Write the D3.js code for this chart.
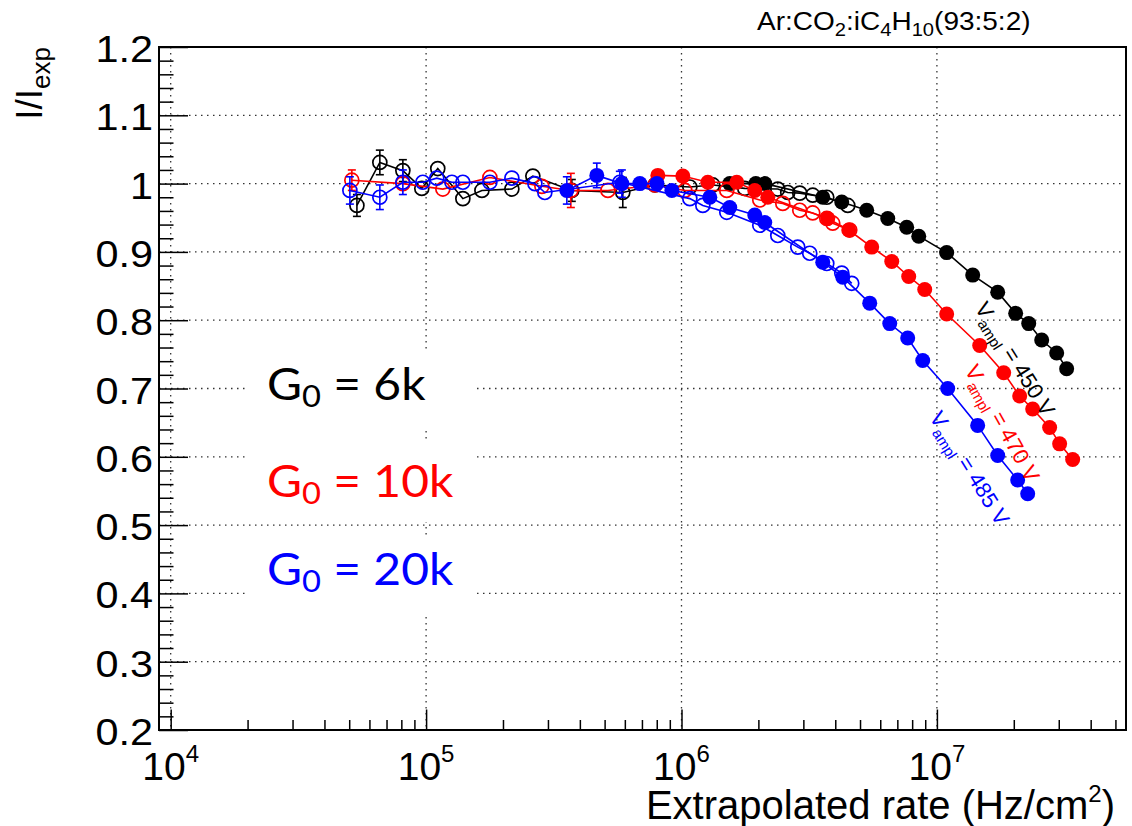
<!DOCTYPE html>
<html>
<head>
<meta charset="utf-8">
<title>I/Iexp vs extrapolated rate</title>
<style>
  body { margin: 0; background: #fff; }
  svg text { font-family: "Liberation Sans", Arial, sans-serif; fill: #000; }
  .grid line { stroke: #333; stroke-width: 1.3; stroke-dasharray: 1.5, 4.5; }
  .gain { font-family: Lato, "Noto Sans", sans-serif; font-size: 44px; }
</style>
</head>
<body>
<svg id="chart" width="1132" height="826"></svg>
<script src="https://d3js.org/d3.v7.min.js"></script>
<script>
// ---- data ----
const xMajorTicks = [1e4, 1e5, 1e6, 1e7];
const yMajorTicks = [0.2, 0.3, 0.4, 0.5, 0.6, 0.7, 0.8, 0.9, 1.0, 1.1, 1.2];
const yTickLabels = ["0.2", "0.3", "0.4", "0.5", "0.6", "0.7", "0.8", "0.9", "1", "1.1", "1.2"];

// G0 = 6k (black)
const blackOpenRate  = [5.36e4, 6.59e4, 8.11e4, 9.62e4, 1.111e5, 1.393e5, 1.654e5, 2.167e5, 2.618e5, 3.72e5, 5.89e5, 7.87e5, 1.078e6, 1.326e6, 1.769e6, 2.382e6, 2.606e6, 2.904e6, 3.265e6, 3.705e6, 4.477e6];
const blackOpenRatio = [0.968, 1.031, 1.019, 0.993, 1.022, 0.978, 0.990, 0.992, 1.011, 0.990, 0.987, 0.998, 0.995, 0.998, 0.993, 0.992, 0.987, 0.986, 0.983, 0.980, 0.968];
const blackOpenErr   = [0.016, 0.018, 0.016, 0.005, 0.005, 0.005, 0.005, 0.005, 0.005, 0.016, 0.022, 0.004, 0.004, 0.004, 0.004, 0.004, 0.004, 0.004, 0.004, 0.004, 0.004];
const blackFullRate  = [1.545e6, 1.954e6, 2.118e6, 3.573e6, 4.241e6, 5.311e6, 6.42e6, 7.617e6, 8.49e6, 1.092e7, 1.381e7, 1.730e7, 2.034e7, 2.288e7, 2.572e7, 2.944e7, 3.221e7];
const blackFullRatio = [1.000, 1.000, 1.000, 0.980, 0.973, 0.961, 0.949, 0.936, 0.923, 0.899, 0.866, 0.841, 0.810, 0.795, 0.771, 0.752, 0.729];

// G0 = 10k (red)
const redOpenRate  = [5.12e4, 8.11e4, 1.163e5, 1.777e5, 2.84e5, 3.688e5, 5.15e5, 7.87e5, 1.03e6, 1.504e6, 2.025e6, 2.492e6, 2.904e6, 3.265e6, 3.705e6, 3.91e6, 4.558e6];
const redOpenRatio = [1.005, 1.000, 0.992, 1.009, 0.996, 0.990, 0.990, 0.998, 0.990, 0.990, 0.976, 0.971, 0.961, 0.957, 0.949, 0.942, 0.932];
const redOpenErr   = [0.015, 0.005, 0.005, 0.005, 0.005, 0.025, 0.005, 0.004, 0.004, 0.004, 0.004, 0.004, 0.004, 0.004, 0.004, 0.004, 0.004];
const redFullRate  = [8.08e5, 1.012e6, 1.268e6, 1.646e6, 1.936e6, 2.177e6, 3.738e6, 4.517e6, 5.556e6, 6.656e6, 7.755e6, 8.96e6, 1.092e7, 1.471e7, 1.826e7, 2.109e7, 2.371e7, 2.763e7, 3.024e7, 3.401e7];
const redFullRatio = [1.012, 1.011, 1.002, 1.002, 0.990, 0.980, 0.949, 0.932, 0.907, 0.886, 0.864, 0.845, 0.809, 0.763, 0.723, 0.689, 0.670, 0.643, 0.619, 0.596];

// G0 = 20k (blue)
const blueOpenRate  = [5.03e4, 6.59e4, 8.11e4, 9.71e4, 1.101e5, 1.262e5, 1.393e5, 1.777e5, 2.167e5, 2.667e5, 2.917e5, 5.735e5, 1.078e6, 1.212e6, 1.504e6, 2.025e6, 2.382e6, 2.852e6, 3.178e6, 3.705e6, 4.241e6, 4.64e6];
const blueOpenRatio = [0.990, 0.980, 1.002, 1.002, 1.008, 1.002, 1.002, 1.002, 1.008, 1.000, 0.987, 1.002, 0.978, 0.968, 0.958, 0.939, 0.924, 0.907, 0.898, 0.883, 0.869, 0.854];
const blueOpenErr   = [0.020, 0.018, 0.018, 0.005, 0.005, 0.005, 0.005, 0.005, 0.005, 0.005, 0.005, 0.016, 0.004, 0.004, 0.004, 0.004, 0.004, 0.004, 0.004, 0.004, 0.004, 0.004];
const blueFullRate  = [3.557e5, 4.66e5, 5.84e5, 6.87e5, 8.01e5, 9.17e5, 1.291e6, 1.545e6, 1.936e6, 2.118e6, 3.573e6, 4.28e6, 5.457e6, 6.537e6, 7.686e6, 8.8e6, 1.102e7, 1.444e7, 1.730e7, 2.071e7, 2.267e7];
const blueFullRatio = [0.990, 1.012, 1.000, 1.000, 1.000, 0.990, 0.980, 0.965, 0.954, 0.943, 0.885, 0.863, 0.825, 0.795, 0.774, 0.741, 0.700, 0.646, 0.602, 0.566, 0.546];
const blueFullErr   = [0.020, 0.018, 0.020, 0.004, 0.004, 0.004, 0.004, 0.004, 0.004, 0.004, 0.004, 0.004, 0.004, 0.004, 0.004, 0.004, 0.004, 0.004, 0.004, 0.004, 0.004];

const gainLabels = ["6k", "10k", "20k"];
const voltLabels = ["450", "470", "485"];
const colors = ["#000000", "#ff0000", "#0000ff"];
// where the rotated V_ampl labels start (rate, ratio)
const voltLabelRate  = [1.40e7, 1.28e7, 9.3e6];
const voltLabelRatio = [0.818, 0.727, 0.658];

// ---- layout ----
const frame = {left: 159, right: 1126, top: 47, bottom: 730};
const svg = d3.select("#chart");

svg.append("rect").attr("width", 1132).attr("height", 826).attr("fill", "#fff");

const x = d3.scaleLog().domain([9000, 5.5e7]).range([frame.left, frame.right]);
const y = d3.scaleLinear().domain([0.2, 1.2]).range([frame.bottom, frame.top]);

// grid
const grid = svg.append("g").attr("class", "grid");
grid.selectAll(".vx").data(xMajorTicks).enter().append("line")
  .attr("x1", d => x(d)).attr("x2", d => x(d))
  .attr("y1", frame.top).attr("y2", frame.bottom);
grid.selectAll(".hy").data(yMajorTicks.slice(1, -1)).enter().append("line")
  .attr("x1", frame.left).attr("x2", frame.right)
  .attr("y1", d => y(d)).attr("y2", d => y(d));

// white boxes behind the gain labels
const gainBoxTop = [352, 442, 537];
svg.selectAll(".gainbox").data(gainBoxTop).enter().append("rect")
  .attr("x", 245).attr("y", d => d).attr("width", 232).attr("height", d => d === 442 ? 80 : 78)
  .attr("fill", "#fff");

// axes (ticks point inside the frame)
const xMinor = [];
for (let k = 3; k <= 7; k++) for (let m = 2; m <= 9; m++) {
  const v = m * Math.pow(10, k);
  if (v > 9100 && v < 5.5e7) xMinor.push(v);
}
const yMinor = d3.range(0.22, 1.2, 0.02).filter(v => Math.abs(v * 10 - Math.round(v * 10)) > 0.01);

function tickAxis(axis) {
  return g => { g.call(axis); g.select(".domain").remove(); g.selectAll("line").attr("stroke", "#000").attr("stroke-width", 1.5); };
}
svg.append("g").attr("transform", `translate(0,${frame.bottom})`)
  .call(tickAxis(d3.axisBottom(x).tickValues(xMajorTicks).tickSize(-20.5).tickFormat("")));
svg.append("g").attr("transform", `translate(0,${frame.bottom})`)
  .call(tickAxis(d3.axisBottom(x).tickValues(xMinor).tickSize(-10).tickFormat("")));
svg.append("g").attr("transform", `translate(${frame.left},0)`)
  .call(tickAxis(d3.axisLeft(y).tickValues(yMajorTicks).tickSize(-29).tickFormat("")));
svg.append("g").attr("transform", `translate(${frame.left},0)`)
  .call(tickAxis(d3.axisLeft(y).tickValues(yMinor).tickSize(-14.5).tickFormat("")));

// frame
svg.append("rect")
  .attr("x", frame.left).attr("y", frame.top)
  .attr("width", frame.right - frame.left).attr("height", frame.bottom - frame.top)
  .attr("fill", "none").attr("stroke", "#000").attr("stroke-width", 2);

// tick labels
svg.selectAll(".ylab").data(yMajorTicks).enter().append("text")
  .attr("transform", d => `translate(153,${y(d) + 15}) scale(1.12,1)`)
  .attr("text-anchor", "end").attr("font-size", 37)
  .text((d, i) => yTickLabels[i]);

const xl = svg.selectAll(".xlab").data(xMajorTicks).enter().append("text")
  .attr("x", d => x(d)).attr("y", 780).attr("text-anchor", "middle");
xl.append("tspan").attr("font-size", 39).text("10");
xl.append("tspan").attr("font-size", 24).attr("dy", -18).text(d => Math.round(Math.log10(d)));

// axis titles
const xt = svg.append("text").attr("x", 1115).attr("y", 819).attr("text-anchor", "end").attr("font-size", 40);
xt.append("tspan").text("Extrapolated rate (Hz/cm");
xt.append("tspan").attr("font-size", 24).attr("dy", -17).text("2");
xt.append("tspan").attr("dy", 17).text(")");

const yt = svg.append("text").attr("transform", `translate(42,${frame.top}) rotate(-90)`)
  .attr("text-anchor", "end").attr("font-size", 37);
yt.append("tspan").text("I/I");
yt.append("tspan").attr("font-size", 26).attr("dy", 8).text("exp");

// gas mixture
const gt = svg.append("text").attr("transform", "translate(757,30) scale(1.12,1)").attr("font-size", 25);
[["Ar:CO", 0], ["2", 1], [":iC", 0], ["4", 1], ["H", 0], ["10", 1], ["(93:5:2)", 0]].forEach(([s, sub], i, arr) => {
  const prev = i > 0 ? arr[i - 1][1] : 0;
  gt.append("tspan").attr("font-size", sub ? 18 : 25).attr("dy", (sub - prev) * 6).text(s);
});

// ---- data series ----
const series = [
  {rate: blackOpenRate, ratio: blackOpenRatio, err: blackOpenErr, color: colors[0], filled: false},
  {rate: blackFullRate, ratio: blackFullRatio, err: null, color: colors[0], filled: true},
  {rate: redOpenRate, ratio: redOpenRatio, err: redOpenErr, color: colors[1], filled: false},
  {rate: redFullRate, ratio: redFullRatio, err: null, color: colors[1], filled: true},
  {rate: blueOpenRate, ratio: blueOpenRatio, err: blueOpenErr, color: colors[2], filled: false},
  {rate: blueFullRate, ratio: blueFullRatio, err: blueFullErr, color: colors[2], filled: true}
];

const line = d3.line().x(d => x(d.r)).y(d => y(d.v));

series.forEach(s => {
  const pts = s.rate.map((r, i) => ({r, v: s.ratio[i], e: s.err ? s.err[i] : 0}));
  const g = svg.append("g");
  g.append("path").datum(pts).attr("d", line)
    .attr("fill", "none").attr("stroke", s.color).attr("stroke-width", 1.6);
  const eb = g.selectAll(".err").data(pts.filter(d => d.e > 0.006)).enter().append("g").attr("stroke", s.color).attr("stroke-width", 1.6);
  eb.append("line").attr("x1", d => x(d.r)).attr("x2", d => x(d.r)).attr("y1", d => y(d.v - d.e)).attr("y2", d => y(d.v + d.e));
  eb.append("line").attr("x1", d => x(d.r) - 4).attr("x2", d => x(d.r) + 4).attr("y1", d => y(d.v - d.e)).attr("y2", d => y(d.v - d.e));
  eb.append("line").attr("x1", d => x(d.r) - 4).attr("x2", d => x(d.r) + 4).attr("y1", d => y(d.v + d.e)).attr("y2", d => y(d.v + d.e));
  g.selectAll("circle").data(pts).enter().append("circle")
    .attr("cx", d => x(d.r)).attr("cy", d => y(d.v))
    .attr("r", s.filled ? 7.5 : 7)
    .attr("fill", s.filled ? s.color : "none")
    .attr("stroke", s.color).attr("stroke-width", s.filled ? 0 : 1.7);
});

// rotated V_ampl labels
voltLabels.forEach((v, i) => {
  const t = svg.append("text")
    .attr("transform", `translate(${x(voltLabelRate[i])},${y(voltLabelRatio[i])}) rotate(${i === 1 ? 61 : 58})`)
    .attr("font-size", 22).style("fill", colors[i]);
  t.append("tspan").text("V");
  t.append("tspan").attr("font-size", 15).attr("dy", 6).text("ampl");
  t.append("tspan").attr("dy", -6).text(` = ${v} V`);
});

// gain labels
const gainBase = [400, 497, 585];
gainLabels.forEach((gl, i) => {
  const t = svg.append("text").attr("class", "gain")
    .attr("transform", `translate(267,${gainBase[i]}) scale(1.09,1)`).style("fill", colors[i]);
  t.append("tspan").text("G");
  t.append("tspan").attr("font-size", 30).attr("dy", 7).text("0");
  t.append("tspan").attr("dy", -7).text(` = ${gl}`);
});
</script>
</body>
</html>
